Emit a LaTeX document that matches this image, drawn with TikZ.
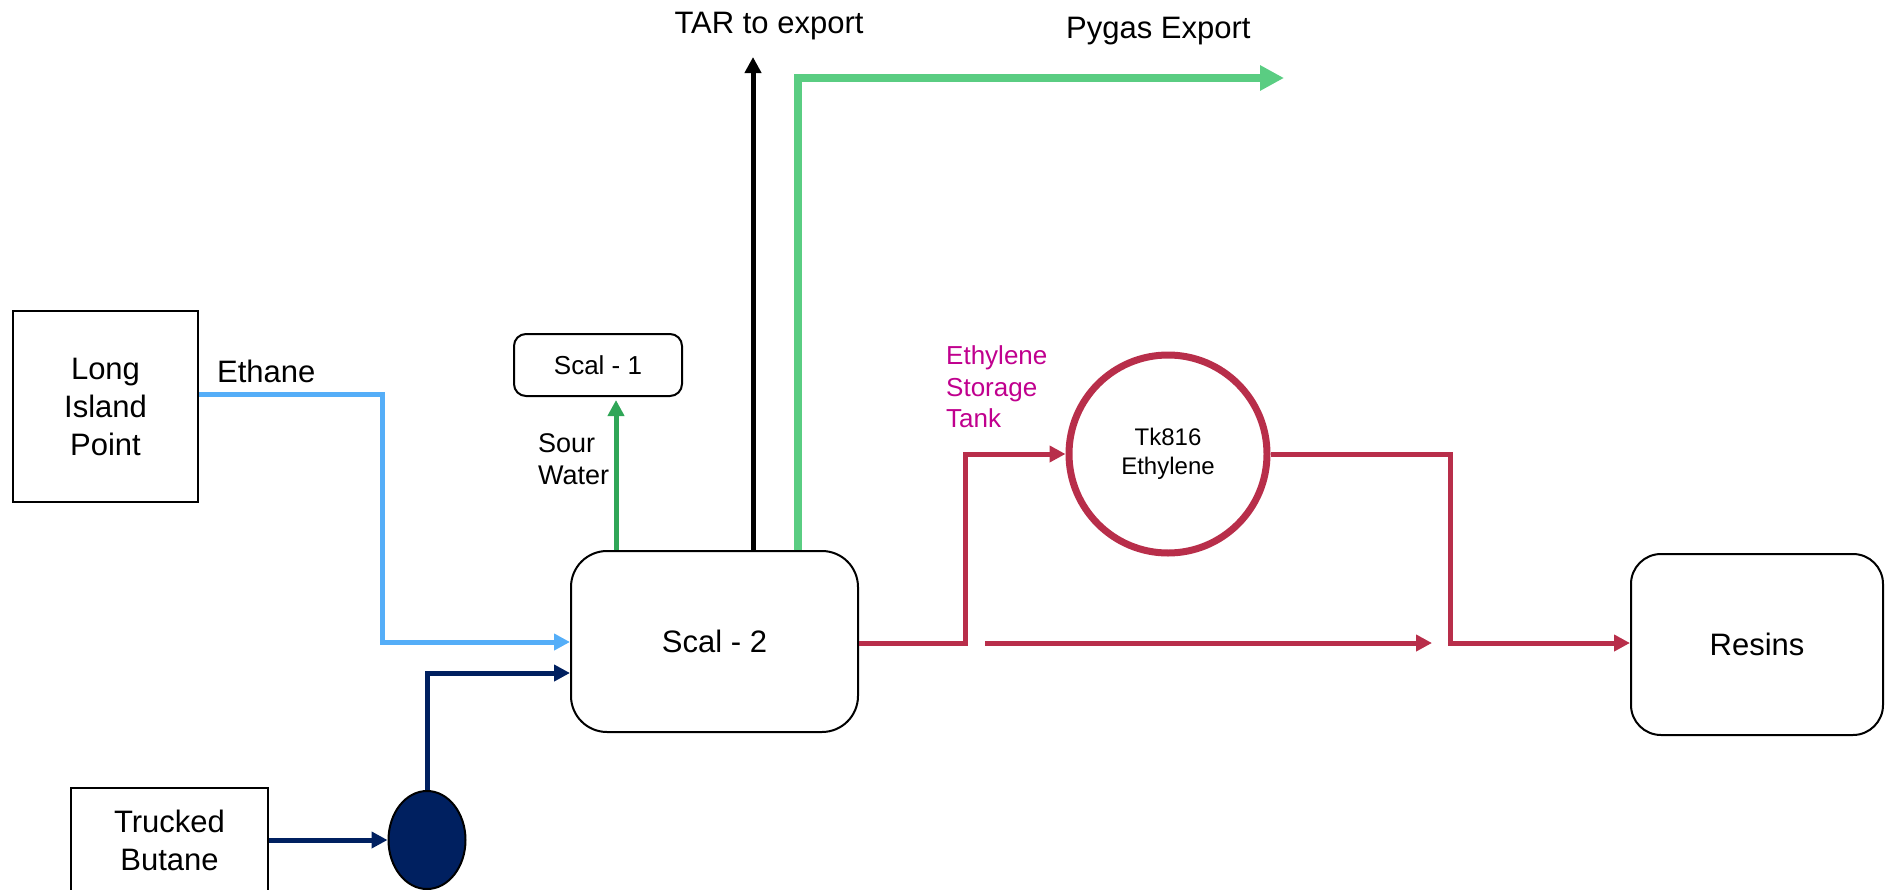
\documentclass[tikz,border=0pt]{standalone}
\usepackage{fontspec}
\setmainfont{Liberation Sans}
\usetikzlibrary{arrows.meta,shapes.geometric}
\definecolor{cblue}{HTML}{55AEF8}
\definecolor{cnavy}{HTML}{002060}
\definecolor{cred}{HTML}{B82E4A}
\definecolor{cgreen}{HTML}{5ACD82}
\definecolor{csour}{HTML}{2FA657}
\definecolor{cmag}{HTML}{C0008E}
\begin{document}
\begin{tikzpicture}[x=1pt,y=-1pt,
  box/.style={draw=black,line width=2pt,inner sep=0pt,align=center,font=\fontsize{31}{38}\selectfont},
  rbox/.style={box,rounded corners=30pt},
  flow/.style={line width=5pt,-{Triangle[length=16pt,width=16pt]}},
  bigflow/.style={line width=8pt,-{Triangle[length=24pt,width=24pt]}},
  plain/.style={line width=5pt},
  lbl/.style={inner sep=0pt,font=\fontsize{31}{37}\selectfont}]
\useasboundingbox (0,0) rectangle (1885,889);

% nodes
\node[box,minimum width=185pt,minimum height=191pt] (lip) at (105.5,406.5) {Long\\Island\\Point};
\node[box,minimum width=197pt,minimum height=104pt] (tb) at (169.5,840) {Trucked\\Butane};
\node[ellipse,draw=black,line width=2pt,fill=cnavy,minimum width=77pt,minimum height=98pt,inner sep=0pt] (pump) at (427,840) {};
\node[rbox,rounded corners=36pt,minimum width=287pt,minimum height=181pt] (scal2) at (714.5,641.5) {Scal - 2};
\node[box,rounded corners=12pt,minimum width=168pt,minimum height=62pt,font=\fontsize{26}{31}\selectfont] (scal1) at (598,365) {Scal - 1};
\node[circle,draw=cred,line width=7pt,minimum size=198pt,inner sep=0pt,align=center,font=\fontsize{24}{28.5}\selectfont] (tk) at (1168,454) {Tk816\\Ethylene};
\node[rbox,minimum width=252pt,minimum height=181pt] (resins) at (1757,644.5) {Resins};

% labels
\node[lbl,anchor=base west] (ethane) at (217,382) {Ethane};
\node[lbl,anchor=base] (tarl) at (769,33) {TAR to export};
\node[lbl,anchor=base west] (pygasl) at (1066,38) {Pygas Export};
\node[inner sep=0pt,anchor=west,align=left,font=\fontsize{27}{32}\selectfont] (sour) at (538,459) {Sour\\Water};
\node[inner sep=0pt,anchor=west,align=left,text=cmag,font=\fontsize{26}{31.5}\selectfont] (storl) at (946,387) {Ethylene\\Storage\\Tank};

% coordinates
\coordinate (b1) at (382,394);
\coordinate (b2) at (382,642);
\coordinate (n1) at (427,673);
\coordinate (sw) at (616,400);
\coordinate (tar) at (753,57);
\coordinate (pg) at (1284,78);
\coordinate (pgx) at (798,78);
\coordinate (r1) at (965,643);
\coordinate (r2) at (965,454);
\coordinate (r3) at (985,643);
\coordinate (r4) at (1432,643);
\coordinate (r5) at (1450,454);
\coordinate (r6) at (1450,643);

% connectors
\draw[flow,cblue] (lip.east|-b1) -- (b1) -- (b2) -- (scal2.west|-b2);
\draw[flow,cnavy] (tb.east|-pump.center) -- (pump.west);
\draw[flow,cnavy] (pump.north) -- (n1) -- (scal2.west|-n1);
\draw[flow,csour] (scal2.north-|sw) -- (sw);
\draw[flow,black] (scal2.north-|tar) -- (tar);
\draw[bigflow,cgreen] (scal2.north-|pgx) -- (pgx) -- (pg);
\draw[flow,cred] (scal2.east|-r1) -- (r1) -- (r2) -- (tk.west);
\draw[flow,cred] (r3) -- (r4);
\draw[flow,cred] (tk.east) -- (r5) -- (r6) -- (resins.west|-r6);
\end{tikzpicture}
\end{document}
